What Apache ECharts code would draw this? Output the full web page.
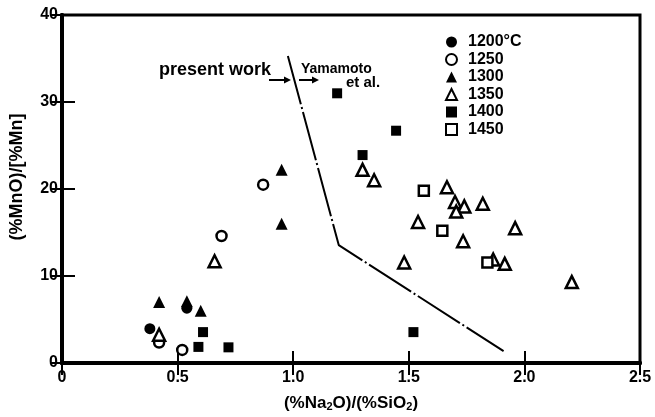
<!DOCTYPE html>
<html><head><meta charset="utf-8">
<script src="https://cdn.jsdelivr.net/npm/echarts@6/dist/echarts.min.js"></script>
<style>html,body{margin:0;padding:0;background:#fff}#c{width:655px;height:417px}</style>
</head><body><div id="c"></div>
<script>
var FONT = "'Liberation Sans',Arial,sans-serif";
var seriesNames = ['1200°C','1250','1300','1350','1400','1450'];
var s1200 = [[0.38,3.95],[0.54,6.3]];
var s1250 = [[0.42,2.35],[0.52,1.5],[0.69,14.6],[0.87,20.5]];
var s1300 = [[0.42,7.0],[0.54,7.1],[0.60,6.0],[0.95,16.0],[0.95,22.2]];
var s1350 = [[0.42,3.25],[0.66,11.7],[1.30,22.2],[1.35,21.0],[1.665,20.2],[1.70,18.5],[1.74,18.0],[1.705,17.4],[1.82,18.3],[1.54,16.2],[1.735,14.0],[1.96,15.5],[1.48,11.55],[1.865,11.9],[1.915,11.4],[2.205,9.3]];
var s1400 = [[0.61,3.55],[0.59,1.85],[0.72,1.8],[1.19,31.0],[1.30,23.9],[1.445,26.7],[1.52,3.55]];
var s1450 = [[1.565,19.8],[1.645,15.2],[1.84,11.55]];
var boundary = [[0.977,35.3],[1.197,13.55],[1.91,1.36]];
var xTicks = ['0','0.5','1.0','1.5','2.0','2.5'];
var yTicks = ['0','10','20','30','40'];

var chart = echarts.init(document.getElementById('c'));
function sc(name, data, symbol, filled, size){
  return {name:name,type:'scatter',data:data,symbol:symbol,symbolSize:size,
    itemStyle:{color:filled?'#000':'#fff',borderColor:'#000',borderWidth:filled?0:2.5,opacity:1},
    emphasis:{disabled:true},z:5};
}
var arrowStyle = {stroke:'#000',lineWidth:2};
var lbl = {color:'#000',fontSize:16,fontWeight:'bold',fontFamily:FONT};
chart.setOption({
  animation:false,
  backgroundColor:'#fff',
  textStyle:{fontFamily:FONT},
  grid:{left:61,right:15,top:15,bottom:49,show:true,borderColor:'#000',borderWidth:3},
  legend:{orient:'vertical',left:440,top:29,itemWidth:11,itemHeight:11,itemGap:1.5,
    data:seriesNames,
    textStyle:{fontFamily:FONT,fontSize:16,fontWeight:'bold',color:'#000',padding:[0,0,0,6],lineHeight:16}},
  xAxis:[{type:'value',min:0,max:2.5,interval:0.5,
    axisLine:{show:true,lineStyle:{color:'#000',width:4}},
    axisTick:{show:true,inside:true,length:12,lineStyle:{color:'#000',width:2}},
    splitLine:{show:false},
    axisLabel:Object.assign({margin:7,formatter:function(v){return xTicks[Math.round(v*2)];}},lbl),
    name:'{t|(%Na}{s|2}{t|O)/(%SiO}{s|2}{t|)}',nameLocation:'middle',nameGap:32,
    nameTextStyle:{rich:{t:{color:'#000',fontSize:17,fontWeight:'bold',fontFamily:FONT},
      s:{color:'#000',fontSize:11,fontWeight:'bold',fontFamily:FONT,verticalAlign:'bottom',padding:[6,0,0,0]}}}},
    {type:'value',position:'top',min:0,max:2.5,interval:0.5,
    axisLine:{show:true,lineStyle:{color:'#000',width:4}},
    axisTick:{show:true,inside:true,length:12,lineStyle:{color:'#000',width:2}},
    axisLabel:{show:false},splitLine:{show:false}}],
  yAxis:[{type:'value',min:0,max:40,interval:10,
    axisLine:{show:true,lineStyle:{color:'#000',width:4}},
    axisTick:{show:true,inside:true,length:13,lineStyle:{color:'#000',width:2}},
    splitLine:{show:false},
    axisLabel:Object.assign({margin:4,formatter:function(v){return yTicks[Math.round(v/10)];}},lbl),
    name:'(%MnO)/[%Mn]',nameLocation:'middle',nameGap:36,
    nameTextStyle:{color:'#000',fontSize:18,fontWeight:'bold',fontFamily:FONT,padding:[0,0,0,24]}},
    {type:'value',position:'right',min:0,max:40,interval:10,
    axisLine:{show:true,lineStyle:{color:'#000',width:4}},
    axisTick:{show:true,inside:true,length:12,lineStyle:{color:'#000',width:2}},
    axisLabel:{show:false},splitLine:{show:false}}],
  series:[
    sc(seriesNames[0],s1200,'circle',true,11),
    sc(seriesNames[1],s1250,'circle',false,10),
    sc(seriesNames[2],s1300,'triangle',true,12),
    sc(seriesNames[3],s1350,'triangle',false,12),
    sc(seriesNames[4],s1400,'rect',true,10),
    sc(seriesNames[5],s1450,'rect',false,10),
    {name:'boundary',type:'line',data:boundary,symbol:'none',silent:true,
      lineStyle:{color:'#000',width:2,type:[50,3,2,3]},z:3}
  ],
  graphic:[
    {type:'text',left:159,top:61,style:{text:'present work',font:'bold 18px '+FONT,fill:'#000'}},
    {type:'text',left:301,top:62,style:{text:'Yamamoto',font:'bold 14px '+FONT,fill:'#000'}},
    {type:'text',left:346,top:75,style:{text:'et al.',font:'bold 15px '+FONT,fill:'#000'}},
    {type:'line',shape:{x1:269,y1:80,x2:285,y2:80},style:arrowStyle},
    {type:'polygon',shape:{points:[[284,76.5],[291,80],[284,83.5]]},style:{fill:'#000'}},
    {type:'line',shape:{x1:299,y1:80,x2:313,y2:80},style:arrowStyle},
    {type:'polygon',shape:{points:[[312,76.5],[319,80],[312,83.5]]},style:{fill:'#000'}}
  ]
});
</script></body></html>
